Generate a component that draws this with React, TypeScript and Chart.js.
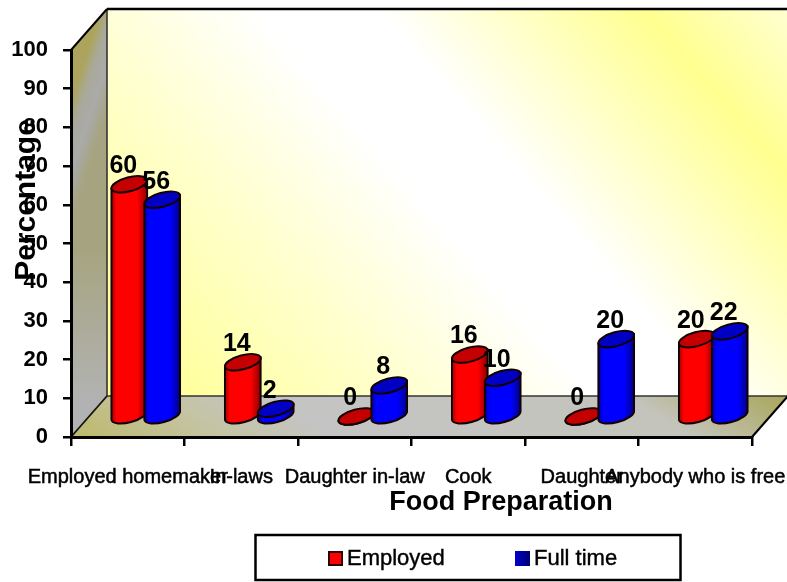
import React, { useEffect, useRef } from "react";
import { Chart, registerables } from "chart.js";

Chart.register(...registerables);

const categories = ["Employed homemaker", "In-laws", "Daughter in-law", "Cook", "Daughter", "Anybody who is free"];
const employedValues = [60, 14, 0, 16, 0, 20];
const fullTimeValues = [56, 2, 8, 10, 20, 22];
const yTicks = [0, 10, 20, 30, 40, 50, 60, 70, 80, 90, 100];
const xTitle = "Food Preparation";
const yTitle = "Percentage";

const FONT = '"Liberation Sans", Arial, sans-serif';
const DEPTH_X = 36;
const DEPTH_Y = -41;

const palette = [
  { edgeL: "#a80000", main: "#ff0000", edgeR: "#8a0000", top: "#c40000" },
  { edgeL: "#0000a8", main: "#0000ff", edgeR: "#00008a", top: "#0000c4" },
];

function line(ctx: CanvasRenderingContext2D, pts: number[][], color: string, w: number) {
  ctx.beginPath();
  pts.forEach((p, i) => (i ? ctx.lineTo(p[0], p[1]) : ctx.moveTo(p[0], p[1])));
  ctx.strokeStyle = color;
  ctx.lineWidth = w;
  ctx.stroke();
}

const roomPlugin = {
  id: "room",
  beforeDraw(chart: any) {
    const { ctx } = chart;
    const { left: l, right: r, top: t, bottom: b } = chart.chartArea;
    const bl = l + DEPTH_X, br = r + DEPTH_X, bt = t + DEPTH_Y, bb = b + DEPTH_Y;
    ctx.save();
    // back wall
    const g = ctx.createLinearGradient(bl, bb, bl + 574, bb - 505);
    g.addColorStop(0, "#ffff8c");
    g.addColorStop(0.3, "#ffffd0");
    g.addColorStop(0.48, "#ffffff");
    g.addColorStop(0.6, "#ffffff");
    g.addColorStop(0.86, "#ffff90");
    g.addColorStop(1, "#ffffd0");
    ctx.fillStyle = g;
    ctx.fillRect(bl, bt, br - bl, bb - bt);
    // side wall
    const wall = () => {
      ctx.beginPath();
      ctx.moveTo(l, t); ctx.lineTo(bl, bt); ctx.lineTo(bl, bb); ctx.lineTo(l, b); ctx.closePath();
    };
    const s = ctx.createLinearGradient(l, 100, bl, 112);
    s.addColorStop(0, "#aca45c");
    s.addColorStop(0.28, "#a9a99a");
    s.addColorStop(0.62, "#aaaaaa");
    s.addColorStop(1, "#a6a480");
    ctx.fillStyle = s;
    wall();
    ctx.fill();
    const sv = ctx.createLinearGradient(0, 250, 0, 400);
    sv.addColorStop(0, "rgba(178,178,178,0)");
    sv.addColorStop(1, "rgba(178,178,178,1)");
    ctx.fillStyle = sv;
    wall();
    ctx.fill();
    // floor
    const f = ctx.createLinearGradient(l, b, l + 197, b - 338);
    f.addColorStop(0, "#bdb96a");
    f.addColorStop(0.2, "#c4c4a4");
    f.addColorStop(0.34, "#c4c4c4");
    f.addColorStop(0.8, "#c4c4bc");
    f.addColorStop(1, "#aaa85e");
    ctx.fillStyle = f;
    ctx.beginPath();
    ctx.moveTo(l, b); ctx.lineTo(r, b); ctx.lineTo(br, bb); ctx.lineTo(bl, bb); ctx.closePath();
    ctx.fill();
    // edges
    line(ctx, [[bl, bb], [br, bb]], "#333", 1.6);
    line(ctx, [[bl, bt], [bl, bb]], "#333", 1.6);
    line(ctx, [[bl, bt], [br, bt]], "#000", 2.6);
    line(ctx, [[l, t], [bl, bt]], "#000", 2);
    line(ctx, [[l, b], [bl, bb]], "#111", 1.8);
    line(ctx, [[r, b], [br, bb]], "#000", 2);
    ctx.restore();
  },
};

const cylinderPlugin = {
  id: "cylinders",
  afterDatasetsDraw(chart: any) {
    const { ctx } = chart;
    const tilt = (-15 * Math.PI) / 180;
    const count = chart.data.labels.length;
    ctx.save();
    for (let j = 0; j < count; j++) {
      chart.data.datasets.forEach((_: any, i: number) => {
        const el = chart.getDatasetMeta(i).data[j];
        const c = palette[i];
        const cx = el.x + DEPTH_X / 2;
        const topY = el.y + DEPTH_Y / 2;
        const baseY = el.base + DEPTH_Y / 2;
        const rx = el.width * 0.56;
        const ry = 7;
        const dx = rx * Math.cos(tilt);
        const dy = rx * Math.sin(tilt);
        const grad = ctx.createLinearGradient(cx - dx, 0, cx + dx, 0);
        grad.addColorStop(0, c.edgeL);
        grad.addColorStop(0.14, c.main);
        grad.addColorStop(0.72, c.main);
        grad.addColorStop(1, c.edgeR);
        ctx.beginPath();
        ctx.moveTo(cx - dx, topY - dy);
        ctx.lineTo(cx - dx, baseY - dy);
        ctx.ellipse(cx, baseY, rx, ry, tilt, Math.PI, 0, true);
        ctx.lineTo(cx + dx, topY + dy);
        ctx.closePath();
        ctx.fillStyle = grad;
        ctx.fill();
        ctx.strokeStyle = "#140000";
        ctx.lineWidth = 2;
        ctx.stroke();
        ctx.beginPath();
        ctx.ellipse(cx, topY, rx, ry, tilt, 0, Math.PI * 2);
        ctx.fillStyle = c.top;
        ctx.fill();
        ctx.stroke();
      });
    }
    // value labels on top of every cylinder
    ctx.font = `bold 25px ${FONT}`;
    ctx.fillStyle = "#000";
    ctx.textAlign = "center";
    ctx.textBaseline = "middle";
    chart.data.datasets.forEach((ds: any, i: number) => {
      chart.getDatasetMeta(i).data.forEach((el: any, j: number) => {
        ctx.fillText(String(ds.data[j]), el.x + DEPTH_X / 2 - 6, el.y + DEPTH_Y / 2 - 18);
      });
    });
    ctx.restore();
  },
};

const annotationPlugin = {
  id: "annotations",
  afterDraw(chart: any) {
    const { ctx } = chart;
    ctx.save();
    ctx.fillStyle = "#000";
    // axis titles
    ctx.font = `bold 27px ${FONT}`;
    ctx.textAlign = "center";
    ctx.textBaseline = "middle";
    ctx.fillText(xTitle, 501, 503);
    ctx.save();
    ctx.translate(35, 200);
    ctx.rotate(-Math.PI / 2);
    ctx.font = `bold 30px ${FONT}`;
    ctx.textBaseline = "alphabetic";
    ctx.fillText(yTitle, 0, 0);
    ctx.restore();
    // legend
    ctx.strokeStyle = "#000";
    ctx.lineWidth = 2.5;
    ctx.strokeRect(255.5, 535, 425, 45);
    const slots = [
      { box: 328, text: 347 },
      { box: 515, text: 534 },
    ];
    ctx.font = `22px ${FONT}`;
    ctx.textAlign = "left";
    chart.data.datasets.forEach((ds: any, i: number) => {
      const g = ctx.createLinearGradient(slots[i].box, 0, slots[i].box + 15, 0);
      g.addColorStop(0, i ? "#0000d0" : "#ff0000");
      g.addColorStop(1, i ? "#000070" : "#ff0000");
      ctx.fillStyle = g;
      ctx.fillRect(slots[i].box, 551, 15, 15);
      if (i === 0) {
        ctx.strokeStyle = "#300000";
        ctx.lineWidth = 2;
        ctx.strokeRect(slots[i].box + 1, 552, 13, 13);
      }
      ctx.fillStyle = "#000";
      ctx.lineWidth = 0.4;
      ctx.strokeStyle = "#000";
      ctx.strokeText(ds.label, slots[i].text, 559);
      ctx.fillText(ds.label, slots[i].text, 559);
    });
    ctx.restore();
  },
};

export default function App() {
  const ref = useRef<HTMLCanvasElement>(null);
  useEffect(() => {
    const chart = new Chart(ref.current as HTMLCanvasElement, {
      type: "bar",
      data: {
        labels: categories,
        datasets: [
          { label: "Employed", data: employedValues, backgroundColor: "transparent", borderWidth: 0 },
          { label: "Full time", data: fullTimeValues, backgroundColor: "transparent", borderWidth: 0 },
        ],
      },
      options: {
        responsive: false,
        animation: false,
        events: [],
        categoryPercentage: 0.58,
        barPercentage: 1,
        layout: { autoPadding: false, padding: { top: 50, right: 35, left: 0, bottom: 0 } },
        plugins: { legend: { display: false }, tooltip: { enabled: false }, title: { display: false } },
        scales: {
          x: {
            afterFit: (s: any) => { s.height = 145; s.paddingLeft = 0; s.paddingRight = 0; },
            grid: { display: true, drawOnChartArea: false, drawTicks: true, tickLength: 9, color: "#000", lineWidth: 2.5 },
            border: { display: true, color: "#000", width: 3 },
            ticks: {
              autoSkip: false, maxRotation: 0, minRotation: 0, padding: 19, color: "#000",
              textStrokeColor: "#000", textStrokeWidth: 0.5,
              font: { family: FONT, size: 20 },
            },
          },
          y: {
            min: 0,
            max: 100,
            afterFit: (s: any) => { s.width = 71; s.paddingTop = 0; s.paddingBottom = 0; },
            afterBuildTicks: (s: any) => { s.ticks = yTicks.map((value) => ({ value })); },
            grid: { display: true, drawOnChartArea: false, drawTicks: true, tickLength: 8, color: "#000", lineWidth: 2.5 },
            border: { display: true, color: "#000", width: 3 },
            ticks: {
              padding: 15, color: "#000",
              font: { family: FONT, size: 22, weight: "bold" },
            },
          },
        },
      } as any,
      plugins: [roomPlugin, cylinderPlugin, annotationPlugin],
    });
    return () => chart.destroy();
  }, []);
  return (
    <div style={{ position: "absolute", left: 0, top: 0, width: 787, height: 582, background: "#fff" }}>
      <canvas ref={ref} width={787} height={582} style={{ display: "block", width: 787, height: 582 }} />
    </div>
  );
}
